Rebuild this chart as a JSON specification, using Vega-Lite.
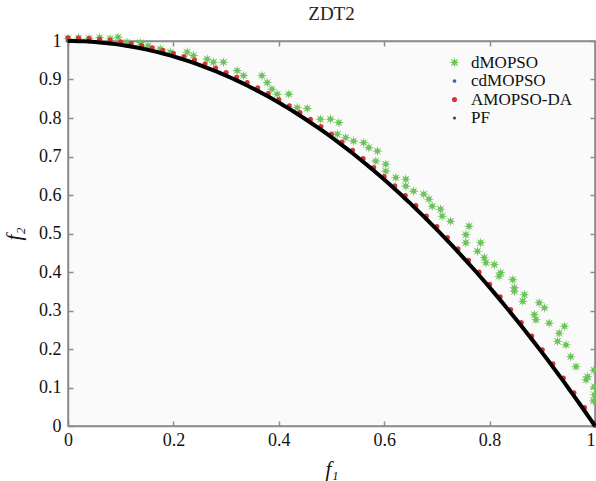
{
  "$schema": "https://vega.github.io/schema/vega-lite/v6.json",
  "autosize": {"type": "none"},
  "padding": {"left": 68, "top": 41, "right": 1, "bottom": 55},
  "width": 527,
  "height": 385,
  "background": "white",
  "title": {"text": "ZDT2", "font": "Liberation Serif", "fontSize": 19, "fontWeight": "normal", "color": "#222222", "offset": 8, "anchor": "middle"},
  "config": {
    "view": {"fill": "#fafafa", "stroke": "#8c8c8c", "strokeWidth": 1.5},
    "axis": {"labelFont": "Liberation Serif", "labelFontSize": 18, "labelColor": "#111111", "titleFont": "Liberation Serif", "titleFontSize": 21, "titleFontWeight": "normal", "titleFontStyle": "italic", "titleColor": "#111111", "domainColor": "#8c8c8c", "domainWidth": 1.5, "tickColor": "#8c8c8c", "tickWidth": 1.5, "grid": false, "labelOverlap": false, "labelFlush": false, "labelBound": false}
  },
  "datasets": {
    "pts": [
      {"s":"dMOPSO","f1":0,"f2":1.006},{"s":"dMOPSO","f1":0.02,"f2":1.008},{"s":"dMOPSO","f1":0.04,"f2":1.007},{"s":"dMOPSO","f1":0.06,"f2":1.009},{"s":"dMOPSO","f1":0.08,"f2":1.006},{"s":"dMOPSO","f1":0.095,"f2":1.01},{"s":"dMOPSO","f1":0.112,"f2":0.997},{"s":"dMOPSO","f1":0.137,"f2":0.996},{"s":"dMOPSO","f1":0.152,"f2":0.987},{"s":"dMOPSO","f1":0.175,"f2":0.979},{"s":"dMOPSO","f1":0.194,"f2":0.971},{"s":"dMOPSO","f1":0.226,"f2":0.971},{"s":"dMOPSO","f1":0.238,"f2":0.962},{"s":"dMOPSO","f1":0.264,"f2":0.953},{"s":"dMOPSO","f1":0.276,"f2":0.945},{"s":"dMOPSO","f1":0.295,"f2":0.945},{"s":"dMOPSO","f1":0.321,"f2":0.923},{"s":"dMOPSO","f1":0.333,"f2":0.91},{"s":"dMOPSO","f1":0.368,"f2":0.91},{"s":"dMOPSO","f1":0.378,"f2":0.892},{"s":"dMOPSO","f1":0.387,"f2":0.875},{"s":"dMOPSO","f1":0.397,"f2":0.862},{"s":"dMOPSO","f1":0.419,"f2":0.862},{"s":"dMOPSO","f1":0.435,"f2":0.827},{"s":"dMOPSO","f1":0.454,"f2":0.825},{"s":"dMOPSO","f1":0.479,"f2":0.797},{"s":"dMOPSO","f1":0.498,"f2":0.797},{"s":"dMOPSO","f1":0.514,"f2":0.788},{"s":"dMOPSO","f1":0.511,"f2":0.758},{"s":"dMOPSO","f1":0.527,"f2":0.749},{"s":"dMOPSO","f1":0.542,"f2":0.74},{"s":"dMOPSO","f1":0.561,"f2":0.736},{"s":"dMOPSO","f1":0.571,"f2":0.723},{"s":"dMOPSO","f1":0.587,"f2":0.714},{"s":"dMOPSO","f1":0.584,"f2":0.688},{"s":"dMOPSO","f1":0.603,"f2":0.68},{"s":"dMOPSO","f1":0.603,"f2":0.662},{"s":"dMOPSO","f1":0.622,"f2":0.645},{"s":"dMOPSO","f1":0.641,"f2":0.641},{"s":"dMOPSO","f1":0.641,"f2":0.623},{"s":"dMOPSO","f1":0.656,"f2":0.61},{"s":"dMOPSO","f1":0.675,"f2":0.602},{"s":"dMOPSO","f1":0.685,"f2":0.589},{"s":"dMOPSO","f1":0.691,"f2":0.571},{"s":"dMOPSO","f1":0.707,"f2":0.563},{"s":"dMOPSO","f1":0.71,"f2":0.545},{"s":"dMOPSO","f1":0.726,"f2":0.532},{"s":"dMOPSO","f1":0.761,"f2":0.519},{"s":"dMOPSO","f1":0.755,"f2":0.497},{"s":"dMOPSO","f1":0.755,"f2":0.476},{"s":"dMOPSO","f1":0.783,"f2":0.476},{"s":"dMOPSO","f1":0.777,"f2":0.454},{"s":"dMOPSO","f1":0.79,"f2":0.437},{"s":"dMOPSO","f1":0.793,"f2":0.424},{"s":"dMOPSO","f1":0.809,"f2":0.419},{"s":"dMOPSO","f1":0.821,"f2":0.398},{"s":"dMOPSO","f1":0.818,"f2":0.389},{"s":"dMOPSO","f1":0.844,"f2":0.38},{"s":"dMOPSO","f1":0.847,"f2":0.359},{"s":"dMOPSO","f1":0.847,"f2":0.35},{"s":"dMOPSO","f1":0.866,"f2":0.341},{"s":"dMOPSO","f1":0.863,"f2":0.324},{"s":"dMOPSO","f1":0.894,"f2":0.32},{"s":"dMOPSO","f1":0.904,"f2":0.307},{"s":"dMOPSO","f1":0.885,"f2":0.289},{"s":"dMOPSO","f1":0.888,"f2":0.276},{"s":"dMOPSO","f1":0.913,"f2":0.267},{"s":"dMOPSO","f1":0.942,"f2":0.259},{"s":"dMOPSO","f1":0.932,"f2":0.241},{"s":"dMOPSO","f1":0.929,"f2":0.22},{"s":"dMOPSO","f1":0.945,"f2":0.211},{"s":"dMOPSO","f1":0.954,"f2":0.18},{"s":"dMOPSO","f1":0.964,"f2":0.154},{"s":"dMOPSO","f1":0.986,"f2":0.128},{"s":"dMOPSO","f1":0.983,"f2":0.12},{"s":"dMOPSO","f1":0.999,"f2":0.102},{"s":"dMOPSO","f1":0.999,"f2":0.081},{"s":"dMOPSO","f1":0.998,"f2":0.145},{"s":"dMOPSO","f1":0.997,"f2":0.065},
      {"s":"cdMOPSO","f1":0,"f2":1},{"s":"cdMOPSO","f1":0.04,"f2":0.9984},{"s":"cdMOPSO","f1":0.08,"f2":0.9936},{"s":"cdMOPSO","f1":0.12,"f2":0.9856},{"s":"cdMOPSO","f1":0.16,"f2":0.9744},{"s":"cdMOPSO","f1":0.2,"f2":0.96},{"s":"cdMOPSO","f1":0.24,"f2":0.9424},{"s":"cdMOPSO","f1":0.28,"f2":0.9216},{"s":"cdMOPSO","f1":0.32,"f2":0.8976},{"s":"cdMOPSO","f1":0.36,"f2":0.8704},{"s":"cdMOPSO","f1":0.4,"f2":0.84},{"s":"cdMOPSO","f1":0.44,"f2":0.8064},{"s":"cdMOPSO","f1":0.48,"f2":0.7696},{"s":"cdMOPSO","f1":0.52,"f2":0.7296},{"s":"cdMOPSO","f1":0.56,"f2":0.6864},{"s":"cdMOPSO","f1":0.6,"f2":0.64},{"s":"cdMOPSO","f1":0.64,"f2":0.5904},{"s":"cdMOPSO","f1":0.68,"f2":0.5376},{"s":"cdMOPSO","f1":0.72,"f2":0.4816},{"s":"cdMOPSO","f1":0.76,"f2":0.4224},{"s":"cdMOPSO","f1":0.8,"f2":0.36},{"s":"cdMOPSO","f1":0.84,"f2":0.2944},{"s":"cdMOPSO","f1":0.88,"f2":0.2256},{"s":"cdMOPSO","f1":0.92,"f2":0.1536},{"s":"cdMOPSO","f1":0.96,"f2":0.0784},{"s":"cdMOPSO","f1":1,"f2":0},
      {"s":"AMOPSO-DA","f1":0,"f2":1.008},{"s":"AMOPSO-DA","f1":0.02,"f2":1.0076},{"s":"AMOPSO-DA","f1":0.04,"f2":1.0064},{"s":"AMOPSO-DA","f1":0.06,"f2":1.0044},{"s":"AMOPSO-DA","f1":0.08,"f2":1.0016},{"s":"AMOPSO-DA","f1":0.1,"f2":0.998},{"s":"AMOPSO-DA","f1":0.12,"f2":0.9936},{"s":"AMOPSO-DA","f1":0.14,"f2":0.9884},{"s":"AMOPSO-DA","f1":0.16,"f2":0.9824},{"s":"AMOPSO-DA","f1":0.18,"f2":0.9756},{"s":"AMOPSO-DA","f1":0.2,"f2":0.968},{"s":"AMOPSO-DA","f1":0.22,"f2":0.9596},{"s":"AMOPSO-DA","f1":0.24,"f2":0.9504},{"s":"AMOPSO-DA","f1":0.26,"f2":0.9404},{"s":"AMOPSO-DA","f1":0.28,"f2":0.9296},{"s":"AMOPSO-DA","f1":0.3,"f2":0.918},{"s":"AMOPSO-DA","f1":0.32,"f2":0.9056},{"s":"AMOPSO-DA","f1":0.34,"f2":0.8924},{"s":"AMOPSO-DA","f1":0.36,"f2":0.8784},{"s":"AMOPSO-DA","f1":0.38,"f2":0.8636},{"s":"AMOPSO-DA","f1":0.4,"f2":0.848},{"s":"AMOPSO-DA","f1":0.42,"f2":0.8316},{"s":"AMOPSO-DA","f1":0.44,"f2":0.8144},{"s":"AMOPSO-DA","f1":0.46,"f2":0.7964},{"s":"AMOPSO-DA","f1":0.48,"f2":0.7776},{"s":"AMOPSO-DA","f1":0.5,"f2":0.758},{"s":"AMOPSO-DA","f1":0.52,"f2":0.7376},{"s":"AMOPSO-DA","f1":0.54,"f2":0.7164},{"s":"AMOPSO-DA","f1":0.56,"f2":0.6944},{"s":"AMOPSO-DA","f1":0.58,"f2":0.6716},{"s":"AMOPSO-DA","f1":0.6,"f2":0.648},{"s":"AMOPSO-DA","f1":0.62,"f2":0.6236},{"s":"AMOPSO-DA","f1":0.64,"f2":0.5984},{"s":"AMOPSO-DA","f1":0.66,"f2":0.5724},{"s":"AMOPSO-DA","f1":0.68,"f2":0.5456},{"s":"AMOPSO-DA","f1":0.7,"f2":0.518},{"s":"AMOPSO-DA","f1":0.72,"f2":0.4896},{"s":"AMOPSO-DA","f1":0.74,"f2":0.4604},{"s":"AMOPSO-DA","f1":0.76,"f2":0.4304},{"s":"AMOPSO-DA","f1":0.78,"f2":0.3996},{"s":"AMOPSO-DA","f1":0.8,"f2":0.368},{"s":"AMOPSO-DA","f1":0.82,"f2":0.3356},{"s":"AMOPSO-DA","f1":0.84,"f2":0.3024},{"s":"AMOPSO-DA","f1":0.86,"f2":0.2684},{"s":"AMOPSO-DA","f1":0.88,"f2":0.2336},{"s":"AMOPSO-DA","f1":0.9,"f2":0.198},{"s":"AMOPSO-DA","f1":0.92,"f2":0.1616},{"s":"AMOPSO-DA","f1":0.94,"f2":0.1244},{"s":"AMOPSO-DA","f1":0.96,"f2":0.0864},{"s":"AMOPSO-DA","f1":0.98,"f2":0.0476},{"s":"AMOPSO-DA","f1":1,"f2":0.008},
      {"s":"PF","f1":0,"f2":1},{"s":"PF","f1":0.01,"f2":0.9999},{"s":"PF","f1":0.02,"f2":0.9996},{"s":"PF","f1":0.03,"f2":0.9991},{"s":"PF","f1":0.04,"f2":0.9984},{"s":"PF","f1":0.05,"f2":0.9975},{"s":"PF","f1":0.06,"f2":0.9964},{"s":"PF","f1":0.07,"f2":0.9951},{"s":"PF","f1":0.08,"f2":0.9936},{"s":"PF","f1":0.09,"f2":0.9919},{"s":"PF","f1":0.1,"f2":0.99},{"s":"PF","f1":0.11,"f2":0.9879},{"s":"PF","f1":0.12,"f2":0.9856},{"s":"PF","f1":0.13,"f2":0.9831},{"s":"PF","f1":0.14,"f2":0.9804},{"s":"PF","f1":0.15,"f2":0.9775},{"s":"PF","f1":0.16,"f2":0.9744},{"s":"PF","f1":0.17,"f2":0.9711},{"s":"PF","f1":0.18,"f2":0.9676},{"s":"PF","f1":0.19,"f2":0.9639},{"s":"PF","f1":0.2,"f2":0.96},{"s":"PF","f1":0.21,"f2":0.9559},{"s":"PF","f1":0.22,"f2":0.9516},{"s":"PF","f1":0.23,"f2":0.9471},{"s":"PF","f1":0.24,"f2":0.9424},{"s":"PF","f1":0.25,"f2":0.9375},{"s":"PF","f1":0.26,"f2":0.9324},{"s":"PF","f1":0.27,"f2":0.9271},{"s":"PF","f1":0.28,"f2":0.9216},{"s":"PF","f1":0.29,"f2":0.9159},{"s":"PF","f1":0.3,"f2":0.91},{"s":"PF","f1":0.31,"f2":0.9039},{"s":"PF","f1":0.32,"f2":0.8976},{"s":"PF","f1":0.33,"f2":0.8911},{"s":"PF","f1":0.34,"f2":0.8844},{"s":"PF","f1":0.35,"f2":0.8775},{"s":"PF","f1":0.36,"f2":0.8704},{"s":"PF","f1":0.37,"f2":0.8631},{"s":"PF","f1":0.38,"f2":0.8556},{"s":"PF","f1":0.39,"f2":0.8479},{"s":"PF","f1":0.4,"f2":0.84},{"s":"PF","f1":0.41,"f2":0.8319},{"s":"PF","f1":0.42,"f2":0.8236},{"s":"PF","f1":0.43,"f2":0.8151},{"s":"PF","f1":0.44,"f2":0.8064},{"s":"PF","f1":0.45,"f2":0.7975},{"s":"PF","f1":0.46,"f2":0.7884},{"s":"PF","f1":0.47,"f2":0.7791},{"s":"PF","f1":0.48,"f2":0.7696},{"s":"PF","f1":0.49,"f2":0.7599},{"s":"PF","f1":0.5,"f2":0.75},{"s":"PF","f1":0.51,"f2":0.7399},{"s":"PF","f1":0.52,"f2":0.7296},{"s":"PF","f1":0.53,"f2":0.7191},{"s":"PF","f1":0.54,"f2":0.7084},{"s":"PF","f1":0.55,"f2":0.6975},{"s":"PF","f1":0.56,"f2":0.6864},{"s":"PF","f1":0.57,"f2":0.6751},{"s":"PF","f1":0.58,"f2":0.6636},{"s":"PF","f1":0.59,"f2":0.6519},{"s":"PF","f1":0.6,"f2":0.64},{"s":"PF","f1":0.61,"f2":0.6279},{"s":"PF","f1":0.62,"f2":0.6156},{"s":"PF","f1":0.63,"f2":0.6031},{"s":"PF","f1":0.64,"f2":0.5904},{"s":"PF","f1":0.65,"f2":0.5775},{"s":"PF","f1":0.66,"f2":0.5644},{"s":"PF","f1":0.67,"f2":0.5511},{"s":"PF","f1":0.68,"f2":0.5376},{"s":"PF","f1":0.69,"f2":0.5239},{"s":"PF","f1":0.7,"f2":0.51},{"s":"PF","f1":0.71,"f2":0.4959},{"s":"PF","f1":0.72,"f2":0.4816},{"s":"PF","f1":0.73,"f2":0.4671},{"s":"PF","f1":0.74,"f2":0.4524},{"s":"PF","f1":0.75,"f2":0.4375},{"s":"PF","f1":0.76,"f2":0.4224},{"s":"PF","f1":0.77,"f2":0.4071},{"s":"PF","f1":0.78,"f2":0.3916},{"s":"PF","f1":0.79,"f2":0.3759},{"s":"PF","f1":0.8,"f2":0.36},{"s":"PF","f1":0.81,"f2":0.3439},{"s":"PF","f1":0.82,"f2":0.3276},{"s":"PF","f1":0.83,"f2":0.3111},{"s":"PF","f1":0.84,"f2":0.2944},{"s":"PF","f1":0.85,"f2":0.2775},{"s":"PF","f1":0.86,"f2":0.2604},{"s":"PF","f1":0.87,"f2":0.2431},{"s":"PF","f1":0.88,"f2":0.2256},{"s":"PF","f1":0.89,"f2":0.2079},{"s":"PF","f1":0.9,"f2":0.19},{"s":"PF","f1":0.91,"f2":0.1719},{"s":"PF","f1":0.92,"f2":0.1536},{"s":"PF","f1":0.93,"f2":0.1351},{"s":"PF","f1":0.94,"f2":0.1164},{"s":"PF","f1":0.95,"f2":0.0975},{"s":"PF","f1":0.96,"f2":0.0784},{"s":"PF","f1":0.97,"f2":0.0591},{"s":"PF","f1":0.98,"f2":0.0396},{"s":"PF","f1":0.99,"f2":0.0199},{"s":"PF","f1":1,"f2":0}
    ]
  },
  "data": {"name": "pts"},
  "resolve": {"axis": {"x": "independent", "y": "independent"}},
  "layer": [
    {
      "mark": {"type": "point", "filled": true, "opacity": 1, "clip": false},
      "encoding": {
        "x": {"field": "f1", "type": "quantitative", "scale": {"domain": [0, 1], "nice": false, "zero": false},
              "axis": {"orient": "bottom", "title": "f₁", "values": [0, 0.2, 0.4, 0.6, 0.8, 1], "format": "~g", "tickSize": -5, "labelPadding": 10, "titlePadding": 9,
                       "labelAlign": {"condition": {"test": "datum.value >= 1", "value": "right"}, "value": "center"}}},
        "y": {"field": "f2", "type": "quantitative", "scale": {"domain": [0, 1], "nice": false, "zero": false},
              "axis": {"orient": "left", "title": "f₂", "values": [0, 0.1, 0.2, 0.3, 0.4, 0.5, 0.6, 0.7, 0.8, 0.9, 1], "format": "~g", "tickSize": -5, "labelPadding": 12, "titlePadding": 14}},
        "color": {"field": "s", "type": "nominal", "sort": null,
                  "scale": {"domain": ["dMOPSO", "cdMOPSO", "AMOPSO-DA", "PF"], "range": ["#6cc35c", "#3a5bd0", "#d43535", "#444444"]},
                  "legend": {"title": null, "orient": "none", "legendX": 378, "legendY": 13, "labelFont": "Liberation Serif", "labelFontSize": 17, "labelColor": "#111111", "rowPadding": 0.5, "padding": 0, "labelOffset": 8, "fillColor": null, "strokeColor": null}},
        "shape": {"field": "s", "type": "nominal",
                  "scale": {"domain": ["dMOPSO", "cdMOPSO", "AMOPSO-DA", "PF"], "range": ["M0,-1L0.15,-0.36L0.71,-0.71L0.36,-0.15L1,0L0.36,0.15L0.71,0.71L0.15,0.36L0,1L-0.15,0.36L-0.71,0.71L-0.36,0.15L-1,0L-0.36,-0.15L-0.71,-0.71L-0.15,-0.36Z", "circle", "circle", "circle"]}},
        "size": {"field": "s", "type": "nominal",
                 "scale": {"type": "ordinal", "domain": ["dMOPSO", "cdMOPSO", "AMOPSO-DA", "PF"], "range": [110, 14, 26, 10]}}
      }
    },
    {
      "transform": [{"filter": "datum.s === 'PF'"}],
      "mark": {"type": "line", "color": "#000000", "strokeWidth": 4},
      "encoding": {
        "x": {"field": "f1", "type": "quantitative", "axis": {"orient": "top", "labels": false, "title": null, "values": [0, 0.2, 0.4, 0.6, 0.8, 1], "tickSize": -5}},
        "y": {"field": "f2", "type": "quantitative", "axis": {"orient": "right", "labels": false, "title": null, "values": [0, 0.1, 0.2, 0.3, 0.4, 0.5, 0.6, 0.7, 0.8, 0.9, 1], "tickSize": -5}}
      }
    }
  ]
}
